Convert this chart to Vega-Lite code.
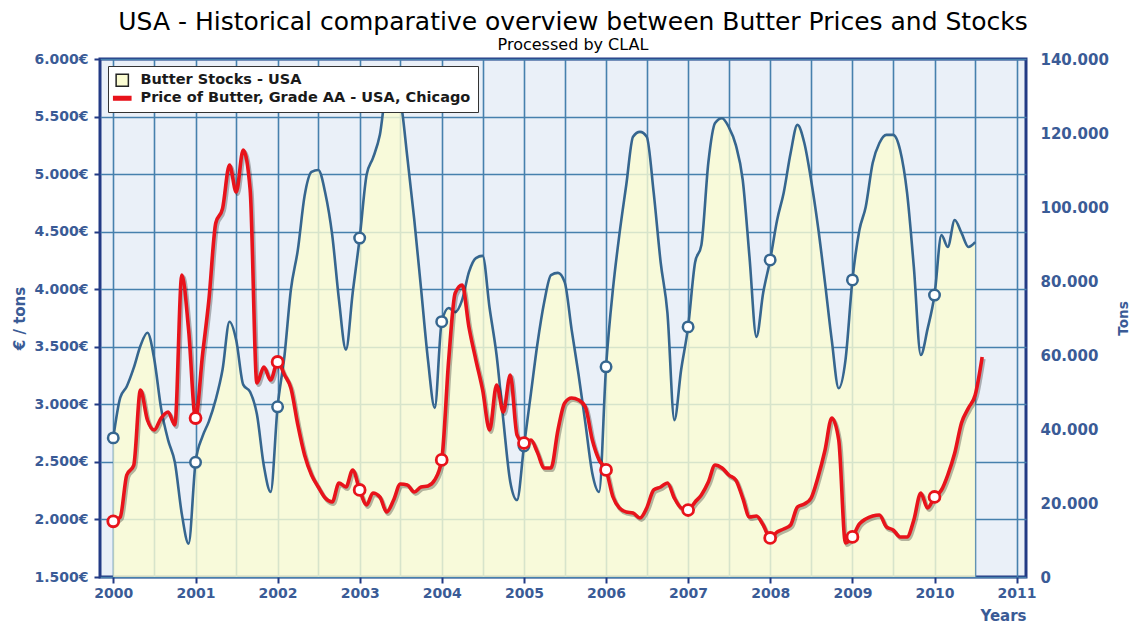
{
  "$schema": "https://vega.github.io/schema/vega-lite/v6.json",
  "width": 926,
  "height": 518,
  "autosize": {"type": "none"},
  "padding": {"left": 100, "top": 59, "right": 111, "bottom": 55},
  "background": "white",
  "title": {
    "text": "USA - Historical comparative overview between Butter Prices and Stocks",
    "subtitle": "Processed by CLAL",
    "font": "DejaVu Sans", "fontSize": 25, "fontWeight": "normal", "color": "#000000",
    "subtitleFont": "DejaVu Sans", "subtitleFontSize": 16, "subtitleColor": "#000000",
    "anchor": "middle", "offset": -1, "subtitlePadding": 2, "dx": 10
  },
  "config": {
    "font": "DejaVu Sans",
    "view": {"fill": "#eaf0f8", "stroke": "#223a85", "strokeWidth": 3}
  },
  "data": {
    "format": {"parse": {"date": "utc:'%Y-%m-%d'"}},
    "values": [
      {"date": "2000-01-01", "stocks": 37600, "price": 1984},
      {"date": "2000-02-01", "stocks": 48500, "price": 2021},
      {"date": "2000-03-01", "stocks": 51500, "price": 2386},
      {"date": "2000-04-01", "stocks": 56500, "price": 2470},
      {"date": "2000-05-01", "stocks": 62500, "price": 3125},
      {"date": "2000-06-01", "stocks": 66000, "price": 2864},
      {"date": "2000-07-01", "stocks": 59000, "price": 2777},
      {"date": "2000-08-01", "stocks": 45500, "price": 2881},
      {"date": "2000-09-01", "stocks": 37000, "price": 2933},
      {"date": "2000-10-01", "stocks": 31000, "price": 2821},
      {"date": "2000-11-01", "stocks": 17000, "price": 4124},
      {"date": "2000-12-01", "stocks": 9000, "price": 3650},
      {"date": "2001-01-01", "stocks": 31000, "price": 2881},
      {"date": "2001-02-01", "stocks": 38000, "price": 3430},
      {"date": "2001-03-01", "stocks": 42000, "price": 3900},
      {"date": "2001-04-01", "stocks": 48000, "price": 4575},
      {"date": "2001-05-01", "stocks": 56000, "price": 4700},
      {"date": "2001-06-01", "stocks": 69000, "price": 5079},
      {"date": "2001-07-01", "stocks": 64000, "price": 4845},
      {"date": "2001-08-01", "stocks": 52000, "price": 5209},
      {"date": "2001-09-01", "stocks": 50000, "price": 4862},
      {"date": "2001-10-01", "stocks": 44000, "price": 3185},
      {"date": "2001-11-01", "stocks": 30000, "price": 3324},
      {"date": "2001-12-01", "stocks": 23000, "price": 3211},
      {"date": "2002-01-01", "stocks": 46000, "price": 3368},
      {"date": "2002-02-01", "stocks": 60000, "price": 3255},
      {"date": "2002-03-01", "stocks": 77600, "price": 3142},
      {"date": "2002-04-01", "stocks": 88400, "price": 2821},
      {"date": "2002-05-01", "stocks": 103000, "price": 2560},
      {"date": "2002-06-01", "stocks": 109500, "price": 2386},
      {"date": "2002-07-01", "stocks": 110000, "price": 2282},
      {"date": "2002-08-01", "stocks": 103800, "price": 2186},
      {"date": "2002-09-01", "stocks": 92400, "price": 2152},
      {"date": "2002-10-01", "stocks": 74900, "price": 2317},
      {"date": "2002-11-01", "stocks": 61400, "price": 2282},
      {"date": "2002-12-01", "stocks": 76800, "price": 2430},
      {"date": "2003-01-01", "stocks": 91600, "price": 2256},
      {"date": "2003-02-01", "stocks": 108700, "price": 2126},
      {"date": "2003-03-01", "stocks": 113200, "price": 2230},
      {"date": "2003-04-01", "stocks": 119500, "price": 2195},
      {"date": "2003-05-01", "stocks": 131600, "price": 2065},
      {"date": "2003-06-01", "stocks": 133000, "price": 2169},
      {"date": "2003-07-01", "stocks": 129000, "price": 2308},
      {"date": "2003-08-01", "stocks": 113500, "price": 2300},
      {"date": "2003-09-01", "stocks": 96500, "price": 2239},
      {"date": "2003-10-01", "stocks": 78000, "price": 2282},
      {"date": "2003-11-01", "stocks": 58600, "price": 2291},
      {"date": "2003-12-01", "stocks": 45700, "price": 2343},
      {"date": "2004-01-01", "stocks": 69000, "price": 2517},
      {"date": "2004-02-01", "stocks": 72700, "price": 3385},
      {"date": "2004-03-01", "stocks": 71600, "price": 3967},
      {"date": "2004-04-01", "stocks": 74900, "price": 4037},
      {"date": "2004-05-01", "stocks": 82400, "price": 3672},
      {"date": "2004-06-01", "stocks": 86200, "price": 3385},
      {"date": "2004-07-01", "stocks": 86800, "price": 3125},
      {"date": "2004-08-01", "stocks": 72700, "price": 2777},
      {"date": "2004-09-01", "stocks": 60000, "price": 3168},
      {"date": "2004-10-01", "stocks": 42400, "price": 2933},
      {"date": "2004-11-01", "stocks": 25700, "price": 3255},
      {"date": "2004-12-01", "stocks": 20800, "price": 2734},
      {"date": "2005-01-01", "stocks": 35400, "price": 2664},
      {"date": "2005-02-01", "stocks": 49700, "price": 2690},
      {"date": "2005-03-01", "stocks": 62700, "price": 2586},
      {"date": "2005-04-01", "stocks": 74300, "price": 2447},
      {"date": "2005-05-01", "stocks": 81600, "price": 2447},
      {"date": "2005-06-01", "stocks": 82200, "price": 2777},
      {"date": "2005-07-01", "stocks": 79700, "price": 3012},
      {"date": "2005-08-01", "stocks": 66800, "price": 3055},
      {"date": "2005-09-01", "stocks": 54600, "price": 3038},
      {"date": "2005-10-01", "stocks": 41600, "price": 2977},
      {"date": "2005-11-01", "stocks": 28000, "price": 2690},
      {"date": "2005-12-01", "stocks": 23000, "price": 2517},
      {"date": "2006-01-01", "stocks": 56800, "price": 2430},
      {"date": "2006-02-01", "stocks": 78000, "price": 2195},
      {"date": "2006-03-01", "stocks": 92400, "price": 2100},
      {"date": "2006-04-01", "stocks": 106000, "price": 2065},
      {"date": "2006-05-01", "stocks": 119000, "price": 2056},
      {"date": "2006-06-01", "stocks": 120300, "price": 2013},
      {"date": "2006-07-01", "stocks": 119000, "price": 2100},
      {"date": "2006-08-01", "stocks": 103800, "price": 2256},
      {"date": "2006-09-01", "stocks": 85000, "price": 2282},
      {"date": "2006-10-01", "stocks": 71400, "price": 2317},
      {"date": "2006-11-01", "stocks": 42400, "price": 2186},
      {"date": "2006-12-01", "stocks": 56000, "price": 2100},
      {"date": "2007-01-01", "stocks": 67600, "price": 2082},
      {"date": "2007-02-01", "stocks": 85000, "price": 2152},
      {"date": "2007-03-01", "stocks": 89700, "price": 2213},
      {"date": "2007-04-01", "stocks": 112000, "price": 2325},
      {"date": "2007-05-01", "stocks": 122700, "price": 2473},
      {"date": "2007-06-01", "stocks": 124000, "price": 2447},
      {"date": "2007-07-01", "stocks": 121600, "price": 2386},
      {"date": "2007-08-01", "stocks": 116800, "price": 2343},
      {"date": "2007-09-01", "stocks": 107300, "price": 2186},
      {"date": "2007-10-01", "stocks": 86500, "price": 2021},
      {"date": "2007-11-01", "stocks": 64900, "price": 2030},
      {"date": "2007-12-01", "stocks": 76800, "price": 1952},
      {"date": "2008-01-01", "stocks": 85700, "price": 1839},
      {"date": "2008-02-01", "stocks": 96500, "price": 1891},
      {"date": "2008-03-01", "stocks": 103800, "price": 1917},
      {"date": "2008-04-01", "stocks": 114600, "price": 1952},
      {"date": "2008-05-01", "stocks": 122200, "price": 2108},
      {"date": "2008-06-01", "stocks": 117300, "price": 2134},
      {"date": "2008-07-01", "stocks": 107300, "price": 2186},
      {"date": "2008-08-01", "stocks": 94600, "price": 2369},
      {"date": "2008-09-01", "stocks": 79500, "price": 2603},
      {"date": "2008-10-01", "stocks": 64000, "price": 2881},
      {"date": "2008-11-01", "stocks": 51000, "price": 2690},
      {"date": "2008-12-01", "stocks": 58600, "price": 1796},
      {"date": "2009-01-01", "stocks": 80300, "price": 1848},
      {"date": "2009-02-01", "stocks": 93800, "price": 1961},
      {"date": "2009-03-01", "stocks": 100000, "price": 2004},
      {"date": "2009-04-01", "stocks": 111900, "price": 2030},
      {"date": "2009-05-01", "stocks": 117300, "price": 2039},
      {"date": "2009-06-01", "stocks": 119500, "price": 1935},
      {"date": "2009-07-01", "stocks": 119500, "price": 1909},
      {"date": "2009-08-01", "stocks": 115400, "price": 1848},
      {"date": "2009-09-01", "stocks": 103800, "price": 1848},
      {"date": "2009-10-01", "stocks": 83800, "price": 1995},
      {"date": "2009-11-01", "stocks": 60000, "price": 2230},
      {"date": "2009-12-01", "stocks": 67000, "price": 2100},
      {"date": "2010-01-01", "stocks": 76200, "price": 2195},
      {"date": "2010-02-01", "stocks": 92400, "price": 2256},
      {"date": "2010-03-01", "stocks": 89200, "price": 2386},
      {"date": "2010-04-01", "stocks": 96500, "price": 2577},
      {"date": "2010-05-01", "stocks": 93000, "price": 2838},
      {"date": "2010-06-01", "stocks": 89200, "price": 2968},
      {"date": "2010-07-01", "stocks": 90500, "price": 3081},
      {"date": "2010-08-01", "stocks": null, "price": 3411}
    ]
  },
  "encoding": {
    "x": {
      "field": "date",
      "type": "temporal",
      "scale": {
        "type": "utc",
        "nice": false,
        "domain": [
          {"year": 1999, "month": 11, "date": 3, "utc": true},
          {"year": 2011, "month": 2, "date": 12, "utc": true}
        ]
      },
      "axis": {
        "title": "Years",
        "titleAnchor": "end",
        "titleFont": "DejaVu Sans",
        "titleFontSize": 15,
        "titleFontWeight": "bold",
        "titleColor": "#3a5b96",
        "titlePadding": 8,
        "values": [
          {"year": 2000, "month": 1, "date": 1, "utc": true},
          {"year": 2000, "month": 7, "date": 1, "utc": true},
          {"year": 2001, "month": 1, "date": 1, "utc": true},
          {"year": 2001, "month": 7, "date": 1, "utc": true},
          {"year": 2002, "month": 1, "date": 1, "utc": true},
          {"year": 2002, "month": 7, "date": 1, "utc": true},
          {"year": 2003, "month": 1, "date": 1, "utc": true},
          {"year": 2003, "month": 7, "date": 1, "utc": true},
          {"year": 2004, "month": 1, "date": 1, "utc": true},
          {"year": 2004, "month": 7, "date": 1, "utc": true},
          {"year": 2005, "month": 1, "date": 1, "utc": true},
          {"year": 2005, "month": 7, "date": 1, "utc": true},
          {"year": 2006, "month": 1, "date": 1, "utc": true},
          {"year": 2006, "month": 7, "date": 1, "utc": true},
          {"year": 2007, "month": 1, "date": 1, "utc": true},
          {"year": 2007, "month": 7, "date": 1, "utc": true},
          {"year": 2008, "month": 1, "date": 1, "utc": true},
          {"year": 2008, "month": 7, "date": 1, "utc": true},
          {"year": 2009, "month": 1, "date": 1, "utc": true},
          {"year": 2009, "month": 7, "date": 1, "utc": true},
          {"year": 2010, "month": 1, "date": 1, "utc": true},
          {"year": 2010, "month": 7, "date": 1, "utc": true},
          {"year": 2011, "month": 1, "date": 1, "utc": true}
        ],
        "labelExpr": "utcmonth(datum.value) == 0 ? utcFormat(datum.value, '%Y') : ''",
        "labelOverlap": false,
        "labelFlush": false,
        "labelFont": "DejaVu Sans",
        "labelFontSize": 14,
        "labelFontWeight": "bold",
        "labelColor": "#3a5b96",
        "labelPadding": 3,
        "tickColor": "#223a85",
        "tickWidth": 2,
        "tickSize": 6,
        "tickOpacity": {"condition": {"test": "utcmonth(datum.value) == 0", "value": 1}, "value": 0},
        "domain": false,
        "grid": true,
        "gridColor": "#4680ad",
        "gridWidth": 1.6
      }
    }
  },
  "layer": [
    {
      "layer": [
        {
          "data": {"values": [{}]},
          "mark": {"type": "rect", "color": "#a9c0e0", "opacity": 0.3},
          "encoding": {
            "x": {"datum": {"year": 2010, "month": 7, "date": 1, "utc": true}, "type": "temporal"},
            "x2": {"datum": {"year": 2011, "month": 1, "date": 1, "utc": true}}
          }
        },
        {
          "mark": {"type": "area", "interpolate": "monotone", "fill": "#fbfcd2", "opacity": 0.8},
          "encoding": {
            "y": {
              "field": "stocks",
              "type": "quantitative",
              "scale": {"domain": [0, 140000], "nice": false, "zero": true},
              "axis": {
                "orient": "right",
                "title": "Tons",
                "titleAngle": 270,
                "titleFont": "DejaVu Sans",
                "titleFontSize": 13.5,
                "titleFontWeight": "bold",
                "titleColor": "#3a5b96",
                "titlePadding": 22,
                "values": [0, 20000, 40000, 60000, 80000, 100000, 120000, 140000],
                "labelExpr": "replace(format(datum.value, ','), ',', '.')",
                "labelFont": "DejaVu Sans",
                "labelFontSize": 15,
                "labelFontWeight": "bold",
                "labelColor": "#3a5b96",
                "labelPadding": 14,
                "ticks": false,
                "domain": false,
                "grid": false
              }
            }
          }
        },
        {
          "mark": {"type": "line", "interpolate": "monotone", "stroke": "#36668f", "strokeWidth": 2.6},
          "encoding": {"y": {"field": "stocks", "type": "quantitative"}}
        },
        {
          "transform": [{"filter": "utcmonth(datum.date) == 0 && isValid(datum.stocks)"}],
          "mark": {"type": "point", "shape": "circle", "filled": true, "fill": "#ffffff", "stroke": "#36668f", "strokeWidth": 2.5, "size": 110, "opacity": 1},
          "encoding": {"y": {"field": "stocks", "type": "quantitative"}}
        }
      ]
    },
    {
      "layer": [
        {
          "mark": {"type": "line", "interpolate": "monotone", "stroke": "#000000", "opacity": 0.28, "strokeWidth": 4, "xOffset": 1.5, "yOffset": 2},
          "encoding": {
            "y": {
              "field": "price",
              "type": "quantitative",
              "scale": {"domain": [1500, 6000], "nice": false, "zero": false},
              "axis": {
                "orient": "left",
                "title": "€ / tons",
                "titleFont": "DejaVu Sans",
                "titleFontSize": 15,
                "titleFontWeight": "bold",
                "titleColor": "#3a5b96",
                "titlePadding": 6,
                "values": [1500, 2000, 2500, 3000, 3500, 4000, 4500, 5000, 5500, 6000],
                "labelExpr": "replace(format(datum.value, ','), ',', '.') + '€'",
                "labelFont": "DejaVu Sans",
                "labelFontSize": 14,
                "labelFontWeight": "bold",
                "labelColor": "#3a5b96",
                "labelPadding": 6,
                "tickColor": "#223a85",
                "tickWidth": 2,
                "tickSize": 6,
                "domain": false,
                "grid": true,
                "gridColor": "#4680ad",
                "gridWidth": 1.6
              }
            }
          }
        },
        {
          "mark": {"type": "line", "interpolate": "monotone", "stroke": "#e8131b", "strokeWidth": 3.6},
          "encoding": {"y": {"field": "price", "type": "quantitative"}}
        },
        {
          "transform": [{"filter": "utcmonth(datum.date) == 0"}],
          "mark": {"type": "point", "shape": "circle", "filled": true, "fill": "#ffffff", "stroke": "#e8131b", "strokeWidth": 2.8, "size": 120, "opacity": 1},
          "encoding": {"y": {"field": "price", "type": "quantitative"}}
        },
        {
          "data": {"values": [{}]},
          "mark": {"type": "point", "filled": true, "opacity": 0},
          "encoding": {
            "x": {"datum": {"year": 2005, "month": 1, "date": 1, "utc": true}, "type": "temporal"},
            "y": {"datum": 3000, "type": "quantitative"},
            "color": {
              "datum": "Butter Stocks - USA",
              "type": "nominal",
              "scale": {
                "domain": ["Butter Stocks - USA", "Price of Butter, Grade AA - USA, Chicago"],
                "range": ["#fbfcd2", "#e8131b"]
              },
              "legend": {
                "title": null,
                "orient": "none",
                "legendX": 8,
                "legendY": 7,
                "padding": 7,
                "fillColor": "#ffffff",
                "strokeColor": "#333333",
                "labelFont": "DejaVu Sans",
                "labelFontSize": 14.5,
                "labelFontWeight": "bold",
                "labelColor": "#1a1a1a",
                "labelLimit": 600,
                "labelOffset": 11,
                "symbolSize": 150,
                "symbolOpacity": 1,
                "symbolStrokeWidth": 1.5,
                "rowPadding": 0
              }
            },
            "shape": {
              "datum": "Butter Stocks - USA",
              "type": "nominal",
              "scale": {
                "domain": ["Butter Stocks - USA", "Price of Butter, Grade AA - USA, Chicago"],
                "range": ["square", "M-1.4,-0.3H1.4V0.3H-1.4Z"]
              },
              "legend": {"title": null}
            },
            "stroke": {
              "datum": "Butter Stocks - USA",
              "type": "nominal",
              "scale": {
                "domain": ["Butter Stocks - USA", "Price of Butter, Grade AA - USA, Chicago"],
                "range": ["#222222", "#e8131b"]
              },
              "legend": {"title": null}
            }
          }
        },
        {
          "data": {"values": [{}]},
          "mark": {"type": "point", "filled": true, "opacity": 0},
          "encoding": {
            "x": {"datum": {"year": 2005, "month": 1, "date": 1, "utc": true}, "type": "temporal"},
            "y": {"datum": 3000, "type": "quantitative"},
            "color": {"datum": "Price of Butter, Grade AA - USA, Chicago", "type": "nominal"},
            "shape": {"datum": "Price of Butter, Grade AA - USA, Chicago", "type": "nominal"},
            "stroke": {"datum": "Price of Butter, Grade AA - USA, Chicago", "type": "nominal"}
          }
        },
        {
          "data": {"values": [{}]},
          "mark": {"type": "text", "text": "CLAL.it", "clip": false, "font": "DejaVu Sans", "fontSize": 14, "fontWeight": "bold", "fontStyle": "italic", "fill": "#1f5ba8", "align": "center", "baseline": "middle", "xOffset": -78, "yOffset": 43},
          "encoding": {
            "x": {"datum": {"year": 2000, "month": 1, "date": 1, "utc": true}, "type": "temporal"},
            "y": {"datum": 1500, "type": "quantitative"}
          }
        }
      ]
    }
  ],
  "resolve": {"scale": {"y": "independent"}}
}
